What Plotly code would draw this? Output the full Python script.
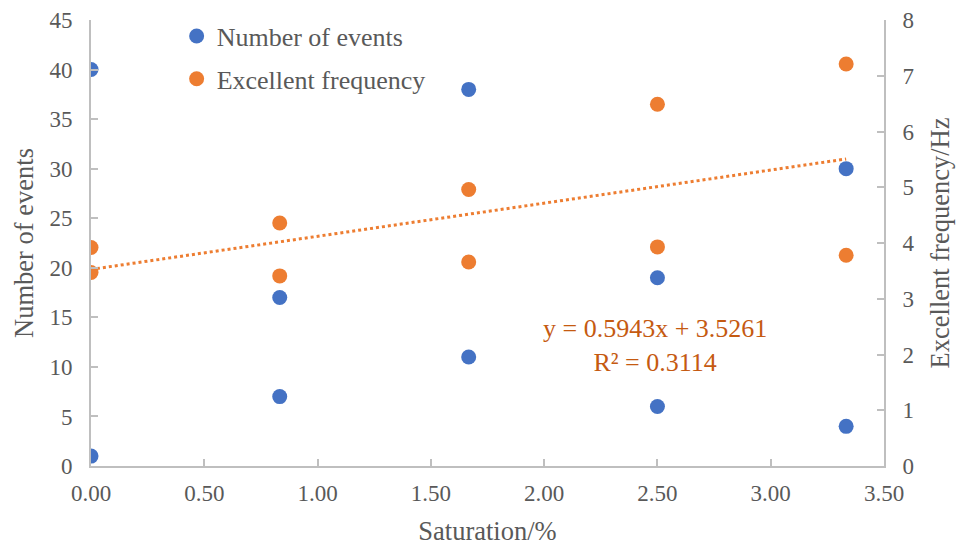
import plotly.graph_objects as go

# Data
sat_events = [0.0, 0.0, 0.833, 0.833, 1.667, 1.667, 2.5, 2.5, 3.333, 3.333]
events = [40, 1, 17, 7, 38, 11, 19, 6, 30, 4]
sat_freq = [0.0, 0.0, 0.833, 0.833, 1.667, 1.667, 2.5, 2.5, 3.333, 3.333]
freq = [3.92, 3.47, 4.36, 3.41, 4.96, 3.66, 6.49, 3.93, 7.21, 3.78]
trend_slope = 0.5943
trend_intercept = 3.5261
trend_x = [min(sat_freq), max(sat_freq)]
trend_y = [trend_slope * x + trend_intercept for x in trend_x]

FONT = "Times New Roman, Liberation Serif, serif"
GREY = "#595959"
AX = "#BFBFBF"

fig = go.Figure()
fig.add_trace(go.Scatter(x=sat_events, y=events, mode="markers", name="Number of events",
                         marker=dict(color="#4472C4", size=15), legendgroup="a"))
fig.add_trace(go.Scatter(x=sat_freq, y=freq, mode="markers", name="Excellent frequency",
                         marker=dict(color="#ED7D31", size=15), yaxis="y2", legendgroup="b"))
fig.add_trace(go.Scatter(x=trend_x, y=trend_y, mode="lines", showlegend=False,
                         line=dict(color="#ED7D31", width=3, dash="dot"), yaxis="y2"))

fig.add_annotation(x=0.711, y=0.27, xref="paper", yref="paper", showarrow=False,
                   xanchor="center", yanchor="middle",
                   text="y = 0.5943x + 3.5261<br>R² = 0.3114", align="center",
                   font=dict(family=FONT, size=26, color="#C55A11"))

axis_common = dict(showgrid=False, zeroline=False, showline=True, linecolor=AX, linewidth=2,
                   ticks="inside", ticklen=7, tickcolor=AX, tickwidth=2, automargin=False,
                   tickfont=dict(family=FONT, size=23, color=GREY))

fig.update_layout(
    width=961, height=546,
    margin=dict(l=91, r=77, t=20, b=80, autoexpand=False),
    paper_bgcolor="white", plot_bgcolor="white",
    font=dict(family=FONT, color=GREY),
    xaxis=dict(range=[0, 3.5], dtick=0.5, tickformat=".2f", ticklabelstandoff=5,
               title=dict(text="Saturation/%", font=dict(family=FONT, size=26.5, color=GREY), standoff=26),
               **axis_common),
    yaxis=dict(range=[0, 45], dtick=5, ticklabelstandoff=12,
               title=dict(text="Number of events", font=dict(family=FONT, size=26.5, color=GREY), standoff=8),
               **axis_common),
    yaxis2=dict(range=[0, 8], dtick=1, overlaying="y", side="right", ticklabelstandoff=12,
                title=dict(text="Excellent frequency/Hz", font=dict(family=FONT, size=26.5, color=GREY), standoff=17),
                **axis_common),
    legend=dict(x=0.108, y=0.977, xref="paper", yref="container", xanchor="left", yanchor="top",
                bgcolor="rgba(0,0,0,0)",
                font=dict(family=FONT, size=26, color=GREY), tracegroupgap=6,
                itemwidth=30),
    showlegend=True,
)

fig.write_html("out.html")
